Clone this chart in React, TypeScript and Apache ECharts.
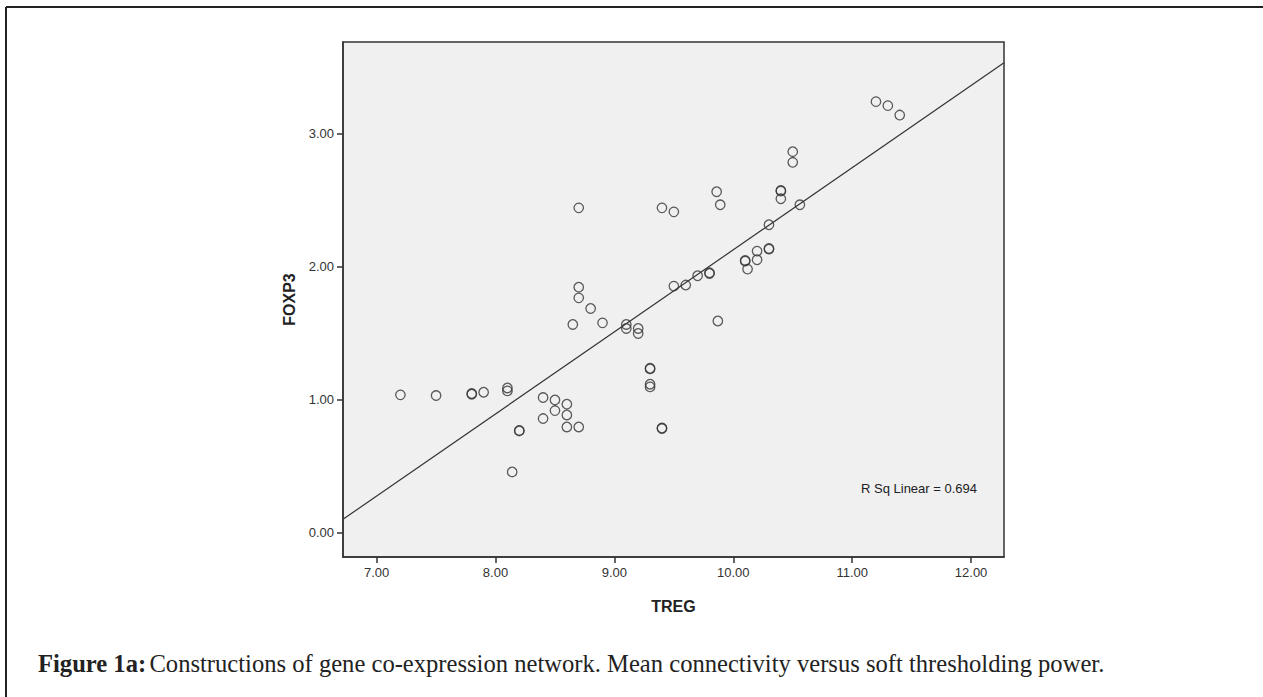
import React, { useEffect, useRef } from "react";
import * as echarts from "echarts";

// TREG (x) and FOXP3 (y) values
const treg = [
  7.2, 7.5, 7.8, 7.8, 7.9, 8.1, 8.1, 8.14, 8.2, 8.2,
  8.4, 8.4, 8.5, 8.5, 8.6, 8.6, 8.6, 8.7, 8.65, 8.7,
  8.7, 8.8, 8.9, 9.1, 9.1, 9.2, 9.2, 9.3, 9.3, 9.3,
  9.3, 9.4, 9.4, 9.5, 8.7, 9.4, 9.5, 11.2, 11.3, 11.4,
  10.5, 10.5, 9.86, 9.89, 10.4, 10.4, 10.4, 10.56, 10.3, 10.3,
  10.3, 10.2, 10.2, 10.1, 10.1, 10.12, 9.8, 9.8, 9.7, 9.6,
  9.87,
];
const foxp3 = [
  1.035, 1.03, 1.04, 1.045, 1.055, 1.087, 1.065, 0.456, 0.764, 0.768,
  1.015, 0.857, 0.997, 0.917, 0.965, 0.884, 0.794, 0.794, 1.564, 1.844,
  1.764, 1.684, 1.576, 1.564, 1.534, 1.534, 1.496, 1.23, 1.235, 1.115,
  1.095, 0.782, 0.786, 1.852, 2.44, 2.44, 2.41, 3.238, 3.208, 3.137,
  2.862, 2.782, 2.561, 2.463, 2.566, 2.571, 2.508, 2.463, 2.313, 2.13,
  2.135, 2.115, 2.05, 2.04, 2.045, 1.98, 1.947, 1.952, 1.93, 1.86,
  1.59,
];

// Linear fit shown in the chart
const fitSlope = 0.6167;
const fitIntercept = -4.042;
const rSqLabel = "R Sq Linear = 0.694";

// Axis ranges and tick labels
const xRange = [6.717, 12.277];
const yRange = [-0.183, 3.686];
const xTicks = [7, 8, 9, 10, 11, 12];
const yTicks = [0, 1, 2, 3];

const xName = "TREG";
const yName = "FOXP3";
const captionBold = "Figure 1a:";
const captionText =
  "Constructions of gene co-expression network. Mean connectivity versus soft thresholding power.";

export default function App() {
  const ref = useRef<HTMLDivElement>(null);
  useEffect(() => {
    if (!ref.current) return;
    const chart = echarts.init(ref.current, null, { renderer: "svg" });
    const points = treg.map((x, i) => [x, foxp3[i]]);
    const fitLine = xRange.map((x) => [x, fitIntercept + fitSlope * x]);
    const sans = "'Liberation Sans', Arial, sans-serif";
    const serif = "'Liberation Serif', serif";
    chart.setOption({
      animation: false,
      backgroundColor: "#ffffff",
      grid: {
        left: 343,
        top: 42,
        right: 259,
        bottom: 140,
        show: true,
        backgroundColor: "#f0f0f0",
        borderColor: "#333",
        borderWidth: 1.5,
      },
      xAxis: {
        type: "value",
        min: xRange[0],
        max: xRange[1],
        name: xName,
        nameLocation: "middle",
        nameGap: 41,
        nameTextStyle: {
          fontFamily: sans,
          fontWeight: "bold",
          fontSize: 16,
          color: "#222",
          verticalAlign: "top",
        },
        axisLine: {
          show: true,
          onZero: false,
          lineStyle: { color: "#333", width: 1.5 },
        },
        axisTick: {
          show: true,
          length: 6,
          customValues: xTicks,
          lineStyle: { color: "#333", width: 1.5 },
        },
        axisLabel: {
          customValues: xTicks,
          formatter: (v: number) => v.toFixed(2),
          fontFamily: sans,
          fontSize: 13,
          color: "#333",
          margin: 9,
        },
        splitLine: { show: false },
      },
      yAxis: {
        type: "value",
        min: yRange[0],
        max: yRange[1],
        name: yName,
        nameLocation: "middle",
        nameRotate: 90,
        nameGap: 42,
        nameTextStyle: {
          fontFamily: sans,
          fontWeight: "bold",
          fontSize: 16,
          color: "#222",
          verticalAlign: "middle",
        },
        axisLine: {
          show: true,
          onZero: false,
          lineStyle: { color: "#333", width: 1.5 },
        },
        axisTick: {
          show: true,
          length: 6,
          customValues: yTicks,
          lineStyle: { color: "#333", width: 1.5 },
        },
        axisLabel: {
          customValues: yTicks,
          formatter: (v: number) => v.toFixed(2),
          fontFamily: sans,
          fontSize: 13,
          color: "#333",
          margin: 9,
        },
        splitLine: { show: false },
      },
      series: [
        {
          type: "scatter",
          data: points,
          symbol: "circle",
          symbolSize: 9.5,
          itemStyle: {
            color: "rgba(0,0,0,0)",
            borderColor: "#333",
            borderWidth: 1.3,
          },
          z: 3,
        },
        {
          type: "line",
          data: fitLine,
          symbol: "none",
          lineStyle: { color: "#333", width: 1.2 },
          z: 2,
        },
      ],
      graphic: [
        {
          type: "line",
          shape: { x1: 6, y1: 7, x2: 1263, y2: 7 },
          style: { stroke: "#222", lineWidth: 2 },
        },
        {
          type: "line",
          shape: { x1: 6, y1: 7, x2: 6, y2: 697 },
          style: { stroke: "#222", lineWidth: 2 },
        },
        {
          type: "text",
          x: 861,
          y: 488,
          style: {
            text: rSqLabel,
            fontFamily: sans,
            fontSize: 13,
            fill: "#222",
            verticalAlign: "middle",
          },
          z: 10,
        },
        {
          type: "text",
          x: 38,
          y: 663,
          style: {
            text: `{b|${captionBold}} {n|${captionText}}`,
            verticalAlign: "middle",
            rich: {
              b: {
                fontFamily: serif,
                fontWeight: "bold",
                fontSize: 24.6,
                fill: "#222",
              },
              n: {
                fontFamily: serif,
                fontSize: 24.6,
                fill: "#222",
              },
            },
          },
        },
      ],
    });
    return () => chart.dispose();
  }, []);
  return (
    <div
      ref={ref}
      style={{ position: "fixed", left: 0, top: 0, width: 1263, height: 697 }}
    />
  );
}
